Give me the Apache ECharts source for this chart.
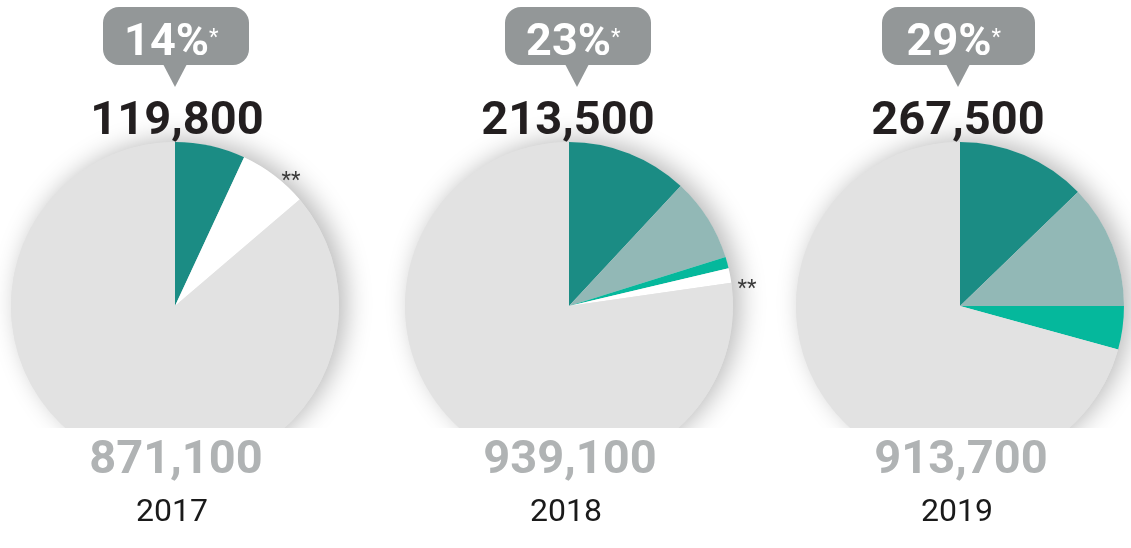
<!DOCTYPE html>
<html><head><meta charset="utf-8">
<script src="https://cdn.jsdelivr.net/npm/echarts@6/dist/echarts.min.js"></script>
<style>html,body{margin:0;padding:0;background:#fff}#c{width:1131px;height:548px}</style>
</head><body><div id="c"></div>
<script>
// ---- data ----
const years = ['2017', '2018', '2019'];
const totals = [871100, 939100, 913700];          // grey number under each pie (whole pie)
const highlighted = [119800, 213500, 267500];     // black number above each pie
const percentLabels = ['14%', '23%', '29%'];
// coloured segments (clockwise from 12 o'clock)
const segDark   = [60300, 112000, 116800];
const segLight  = [0, 77500, 111600];
const segBright = [0, 10500, 39100];
const segWhite  = [59500, 13500, 0];              // '**' share
const whiteMark = ['**', '**', ''];

// ---- style / layout ----
const COLORS = {dark:'#1b8c84', light:'#92b8b6', bright:'#05b89c', white:'#ffffff', grey:'#e2e2e2'};
const centersX = [175, 569, 960];
const centerY = 306, R = 164;
const FONT = 'Roboto';
const fmt = v => v.toLocaleString('en-US');
const markOffset = [[116, -125], [178, -17], [0, 0]];

const series = [];
const graphic = [];
years.forEach((y, i) => {
  const colored = segDark[i] + segLight[i] + segBright[i] + segWhite[i];
  // background disc with shadow
  series.push({
    type: 'pie', silent: true, z: 1, center: [centersX[i], centerY], radius: R,
    label: {show: false}, labelLine: {show: false},
    itemStyle: {color: COLORS.grey, shadowBlur: 26, shadowColor: 'rgba(0,0,0,0.28)', shadowOffsetX: 7, shadowOffsetY: -3},
    data: [{value: totals[i], name: 'total'}]
  });
  series.push({
    type: 'pie', silent: true, z: 2, center: [centersX[i], centerY], radius: R,
    startAngle: 90, clockwise: true, avoidLabelOverlap: false,
    label: {show: false}, labelLine: {show: false},
    data: [
      {value: segDark[i], name: 'a', itemStyle: {color: COLORS.dark}},
      {value: segLight[i], name: 'b', itemStyle: {color: COLORS.light}},
      {value: segBright[i], name: 'c', itemStyle: {color: COLORS.bright}},
      {value: segWhite[i], name: 'd', itemStyle: {color: COLORS.white}},
      {value: totals[i] - colored, name: 'rest', itemStyle: {color: COLORS.grey}}
    ].filter(d => d.value > 0)
  });
  if (whiteMark[i]) {
    graphic.push({type: 'text', z: 40, x: centersX[i] + markOffset[i][0], y: centerY + markOffset[i][1], style: {
      text: whiteMark[i], align: 'center', verticalAlign: 'middle', fontSize: 22, fill: '#3c3c3c', fontFamily: FONT}});
  }
});

// white band that cuts the bottom of the pies
graphic.push({type: 'rect', z: 50, shape: {x: 0, y: 428, width: 1131, height: 120}, style: {fill: '#fff'}});

const bubbleBox = [[103, 249], [505, 651], [882, 1035]];
const apexX = [175, 577, 958];
const topNumX = [177, 568, 958];
years.forEach((y, i) => {
  const cx = centersX[i];
  const [bl, br] = bubbleBox[i];
  const bc = (bl + br) / 2;
  graphic.push({type: 'rect', z: 60, shape: {x: bl, y: 7, width: br - bl, height: 58, r: 16}, style: {fill: '#939798'}});
  graphic.push({type: 'polygon', z: 60, shape: {points: [[apexX[i] - 12, 64], [apexX[i] + 12, 64], [apexX[i], 87]]}, style: {fill: '#939798'}});
  graphic.push({type: 'text', z: 61, x: bc + 33, y: 43.5, style: {
    text: percentLabels[i], align: 'right', verticalAlign: 'middle',
    fontSize: 45, fontWeight: 'bold', fill: '#fff', fontFamily: FONT}});
  graphic.push({type: 'text', z: 61, x: bc + 33, y: 38, style: {
    text: '*', align: 'left', verticalAlign: 'middle',
    fontSize: 22, fill: '#fff', fontFamily: FONT}});
  graphic.push({type: 'text', z: 61, x: topNumX[i], y: 122, style: {
    text: fmt(highlighted[i]), align: 'center', verticalAlign: 'middle',
    fontSize: 47, fontWeight: 'bold', fill: '#231f20', fontFamily: FONT}});
  graphic.push({type: 'text', z: 61, x: cx + 1, y: 461.5, style: {
    text: fmt(totals[i]), align: 'center', verticalAlign: 'middle',
    fontSize: 47, fontWeight: 'bold', fill: '#b0b3b4', fontFamily: FONT}});
  graphic.push({type: 'text', z: 61, x: cx - 3, y: 512.5, style: {
    text: y, align: 'center', verticalAlign: 'middle',
    fontSize: 32, fill: '#1a1a1a', fontFamily: FONT}});
});

const chart = echarts.init(document.getElementById('c'), null, {renderer: 'canvas'});
chart.setOption({animation: false, backgroundColor: '#fff', series, graphic});
</script></body></html>
